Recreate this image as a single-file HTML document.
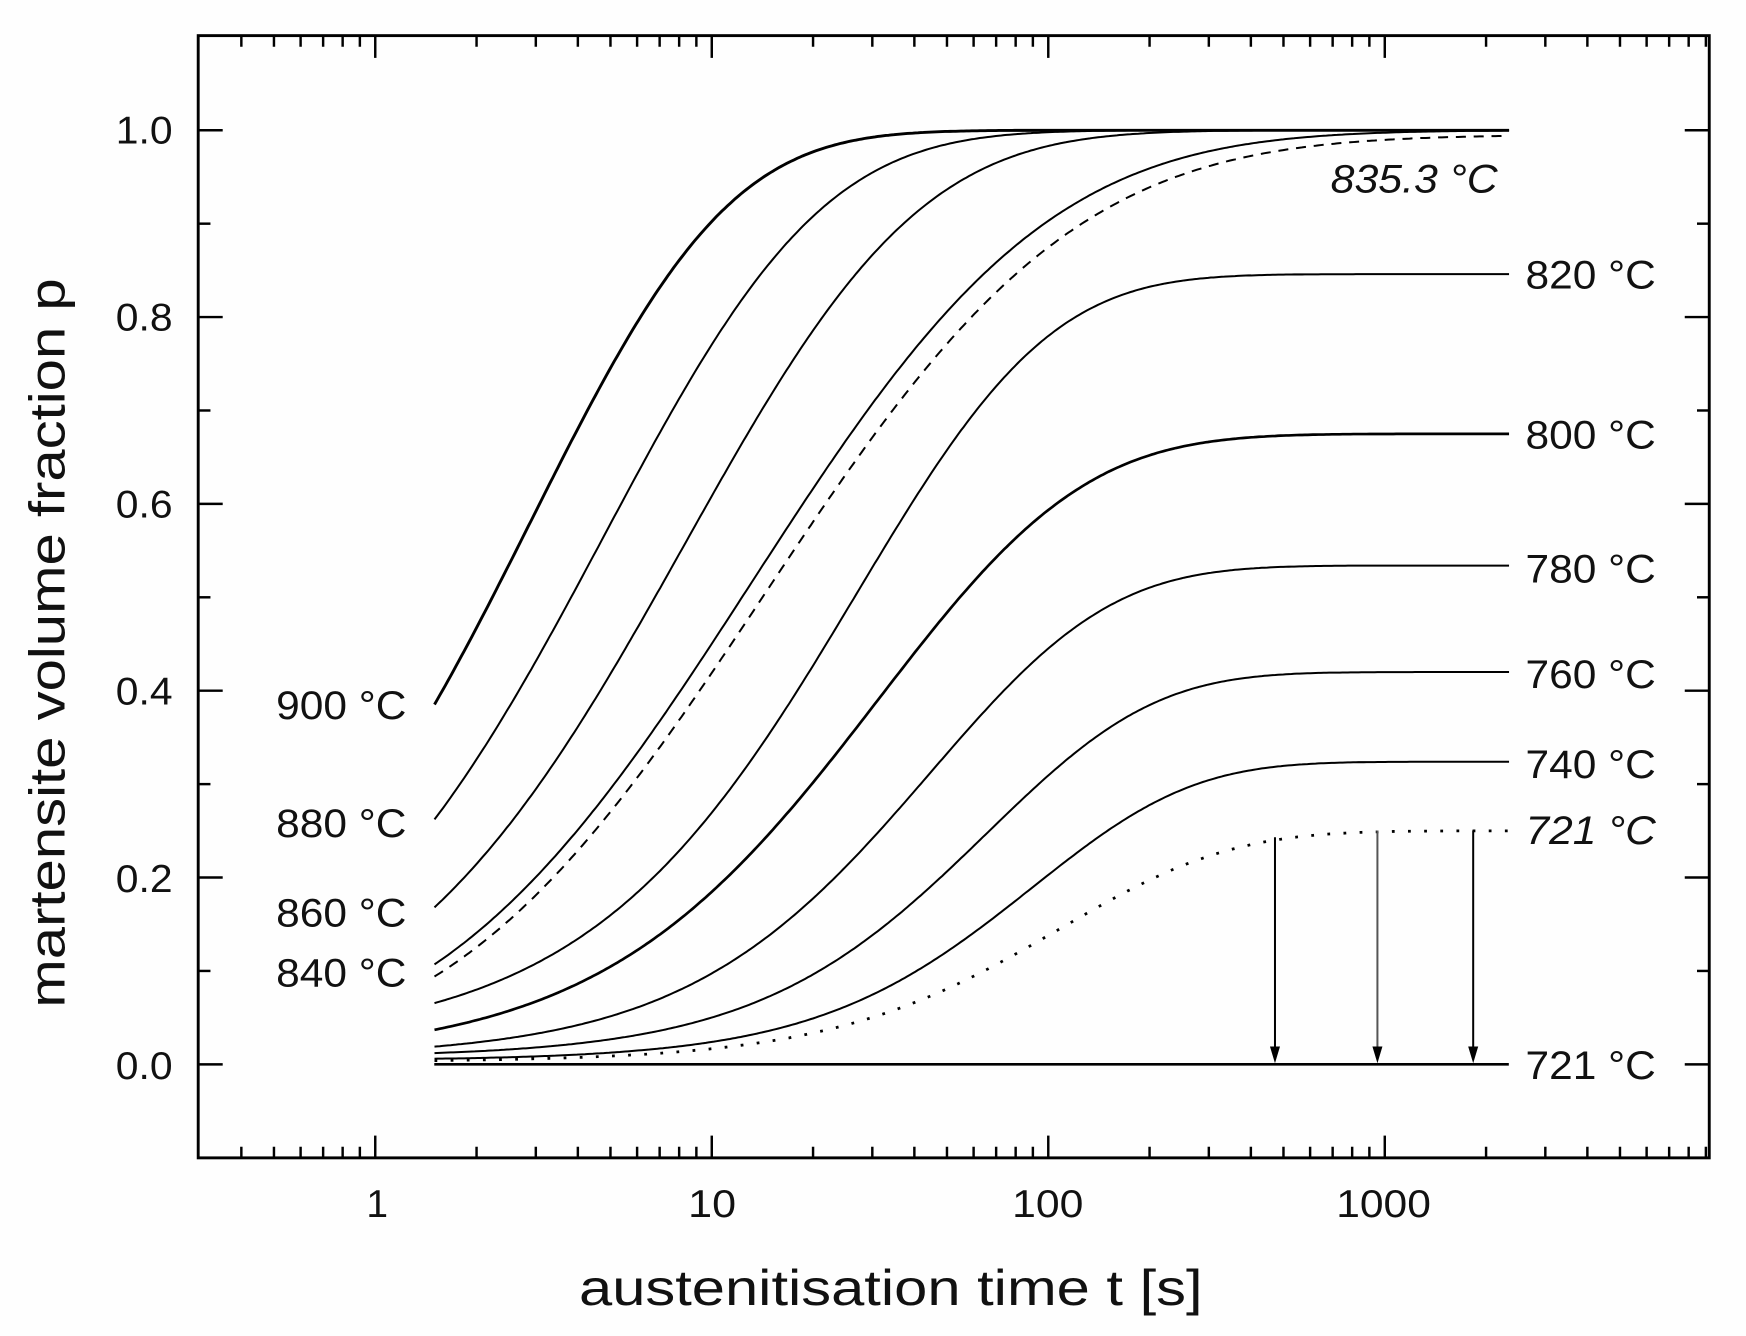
<!DOCTYPE html>
<html><head><meta charset="utf-8">
<style>
html,body{margin:0;padding:0;background:#fff;}
svg{display:block;}
text{font-family:"Liberation Sans",Arial,sans-serif;fill:#111;}
</style></head>
<body>
<svg id="s" width="1746" height="1336" viewBox="0 0 1568 1200" preserveAspectRatio="none" xmlns="http://www.w3.org/2000/svg">
<rect width="1568" height="1200" fill="#fefefe"/>
<g id="ticks" stroke="#000" stroke-width="2.2"></g>
<g id="curves" fill="none" stroke="#000" stroke-width="1.8"></g>
<rect x="178" y="32" width="1357" height="1008" fill="none" stroke="#000" stroke-width="2.6"/>
<g font-size="35" text-anchor="end">
<text x="155" y="129" textLength="51" lengthAdjust="spacingAndGlyphs">1.0</text>
<text x="155" y="297" textLength="51" lengthAdjust="spacingAndGlyphs">0.8</text>
<text x="155" y="465" textLength="51" lengthAdjust="spacingAndGlyphs">0.6</text>
<text x="155" y="633" textLength="51" lengthAdjust="spacingAndGlyphs">0.4</text>
<text x="155" y="801" textLength="51" lengthAdjust="spacingAndGlyphs">0.2</text>
<text x="155" y="969" textLength="51" lengthAdjust="spacingAndGlyphs">0.0</text>
</g>
<g font-size="35">
<text x="329" y="1093">1</text>
<text x="618" y="1093" textLength="43" lengthAdjust="spacingAndGlyphs">10</text>
<text x="909" y="1093" textLength="64" lengthAdjust="spacingAndGlyphs">100</text>
<text x="1200" y="1093" textLength="85" lengthAdjust="spacingAndGlyphs">1000</text>
</g>
<text x="520" y="1172" font-size="45" textLength="560" lengthAdjust="spacingAndGlyphs">austenitisation time  t [s]</text>
<text transform="translate(58,905) rotate(-90)" font-size="45" textLength="655" lengthAdjust="spacingAndGlyphs">martensite volume fraction  p</text>
<g font-size="36">
<text x="248" y="646" textLength="117" lengthAdjust="spacingAndGlyphs">900 °C</text>
<text x="248" y="752" textLength="117" lengthAdjust="spacingAndGlyphs">880 °C</text>
<text x="248" y="832" textLength="117" lengthAdjust="spacingAndGlyphs">860 °C</text>
<text x="248" y="886" textLength="117" lengthAdjust="spacingAndGlyphs">840 °C</text>
<text x="1195" y="173" font-style="italic" textLength="150" lengthAdjust="spacingAndGlyphs">835.3 °C</text>
<text x="1370" y="259" textLength="117" lengthAdjust="spacingAndGlyphs">820 °C</text>
<text x="1370" y="403" textLength="117" lengthAdjust="spacingAndGlyphs">800 °C</text>
<text x="1370" y="523" textLength="117" lengthAdjust="spacingAndGlyphs">780 °C</text>
<text x="1370" y="618" textLength="117" lengthAdjust="spacingAndGlyphs">760 °C</text>
<text x="1370" y="699" textLength="117" lengthAdjust="spacingAndGlyphs">740 °C</text>
<text x="1370" y="758" font-style="italic" textLength="117" lengthAdjust="spacingAndGlyphs">721 °C</text>
<text x="1370" y="969" textLength="117" lengthAdjust="spacingAndGlyphs">721 °C</text>
</g>
</svg>
<script>
(function(){
var NS="http://www.w3.org/2000/svg";
function X(t){return 337+302.2*Math.log10(t);}
function Y(p){return 956-839*p;}
var tk=document.getElementById('ticks');
function line(g,x1,y1,x2,y2,attrs){var l=document.createElementNS(NS,'line');l.setAttribute('x1',x1);l.setAttribute('y1',y1);l.setAttribute('x2',x2);l.setAttribute('y2',y2);if(attrs)for(var k in attrs)l.setAttribute(k,attrs[k]);g.appendChild(l);return l;}
for(var e=-1;e<=3;e++){for(var m=1;m<=9;m++){var t=m*Math.pow(10,e);var x=X(t);if(x<180||x>1533)continue;var L=(m==1)?20:10;line(tk,x,1040,x,1040-L);line(tk,x,32,x,32+L);}}
for(var i=-1;i<=11;i++){var p=i/10;var y=Y(p);if(y<34||y>1038)continue;var L=(i%2==0)?22:11;line(tk,178,y,178+L,y);line(tk,1535,y,1535-L,y);}
function erf(x){var s=x<0?-1:1;x=Math.abs(x);var t=1/(1+0.3275911*x);var y=1-(((((1.061405429*t-1.453152027)*t)+1.421413741)*t-0.284496736)*t+0.254829592)*t*Math.exp(-x*x);return s*y;}
function Phi(z){return 0.5*(1+erf(z/Math.SQRT2));}
var cv=document.getElementById('curves');
function curve(pmax,pts,dash,w){
 var x0=pts[0][0],y0=pts[0][1],x1=pts[1][0],y1=pts[1][1],x2=pts[2][0],y2=pts[2][1];
 var d01=(y1-y0)/(x1-x0),d12=(y2-y1)/(x2-x1);var c=(d12-d01)/(x2-x0);var b=d01-c*(x0+x1);var a=y0-b*x0-c*x0*x0;
 var d='';var A=Math.log(1.5),B=Math.log(2340);var zmax=-99;
 for(var k=0;k<=400;k++){var u=A+(B-A)*k/400;var z=a+b*u+c*u*u;if(z<zmax)z=zmax;zmax=z;var p=pmax*Phi(z);d+=(k?'L':'M')+X(Math.exp(u)).toFixed(1)+','+Y(p).toFixed(1);}
 var pa=document.createElementNS(NS,'path');pa.setAttribute('d',d);if(dash)pa.setAttribute('stroke-dasharray',dash);if(w)pa.setAttribute('stroke-width',w);cv.appendChild(pa);}
curve(1.0,[[0.405,-0.292],[1.105,0.238],[2.313,1.305]],null,2.6);
curve(1.0,[[0.405,-0.637],[1.662,0.238],[2.970,1.305]]);
curve(1.0,[[0.405,-0.962],[2.251,0.238],[3.643,1.305]]);
curve(1.0,[[0.405,-1.243],[2.901,0.238],[4.615,1.305]]);
curve(0.995,[[0.405,-1.314],[3.054,0.246],[4.875,1.332]],'9,7');
curve(0.846,[[0.405,-1.422],[3.645,0.531],[4.913,1.73]]);
curve(0.675,[[0.405,-1.60],[3.55,0.282],[5.165,1.695]],null,2.4);
curve(0.534,[[0.405,-1.805],[3.547,0],[5.165,1.555]]);
curve(0.42,[[0.405,-1.90],[3.936,0],[5.165,1.227]]);
curve(0.324,[[0.405,-2.086],[4.274,0],[5.165,0.915]]);
curve(0.25,[[0.405,-2.14],[4.605,0.13],[6.153,1.75]],'2.5,12',2.5);
line(cv,390,956,1355,956,{'stroke-width':2.4});
[[1145,752,'#000'],[1237,746,'#555'],[1323,746,'#000']].forEach(function(a){
line(cv,a[0],a[1],a[0],944,{'stroke':a[2],'stroke-width':1.8});
var pg=document.createElementNS(NS,'polygon');pg.setAttribute('points',(a[0]-4.5)+',940 '+(a[0]+4.5)+',940 '+a[0]+',955');pg.setAttribute('fill','#000');pg.setAttribute('stroke','none');cv.appendChild(pg);
});
})();
</script>
</body></html>
